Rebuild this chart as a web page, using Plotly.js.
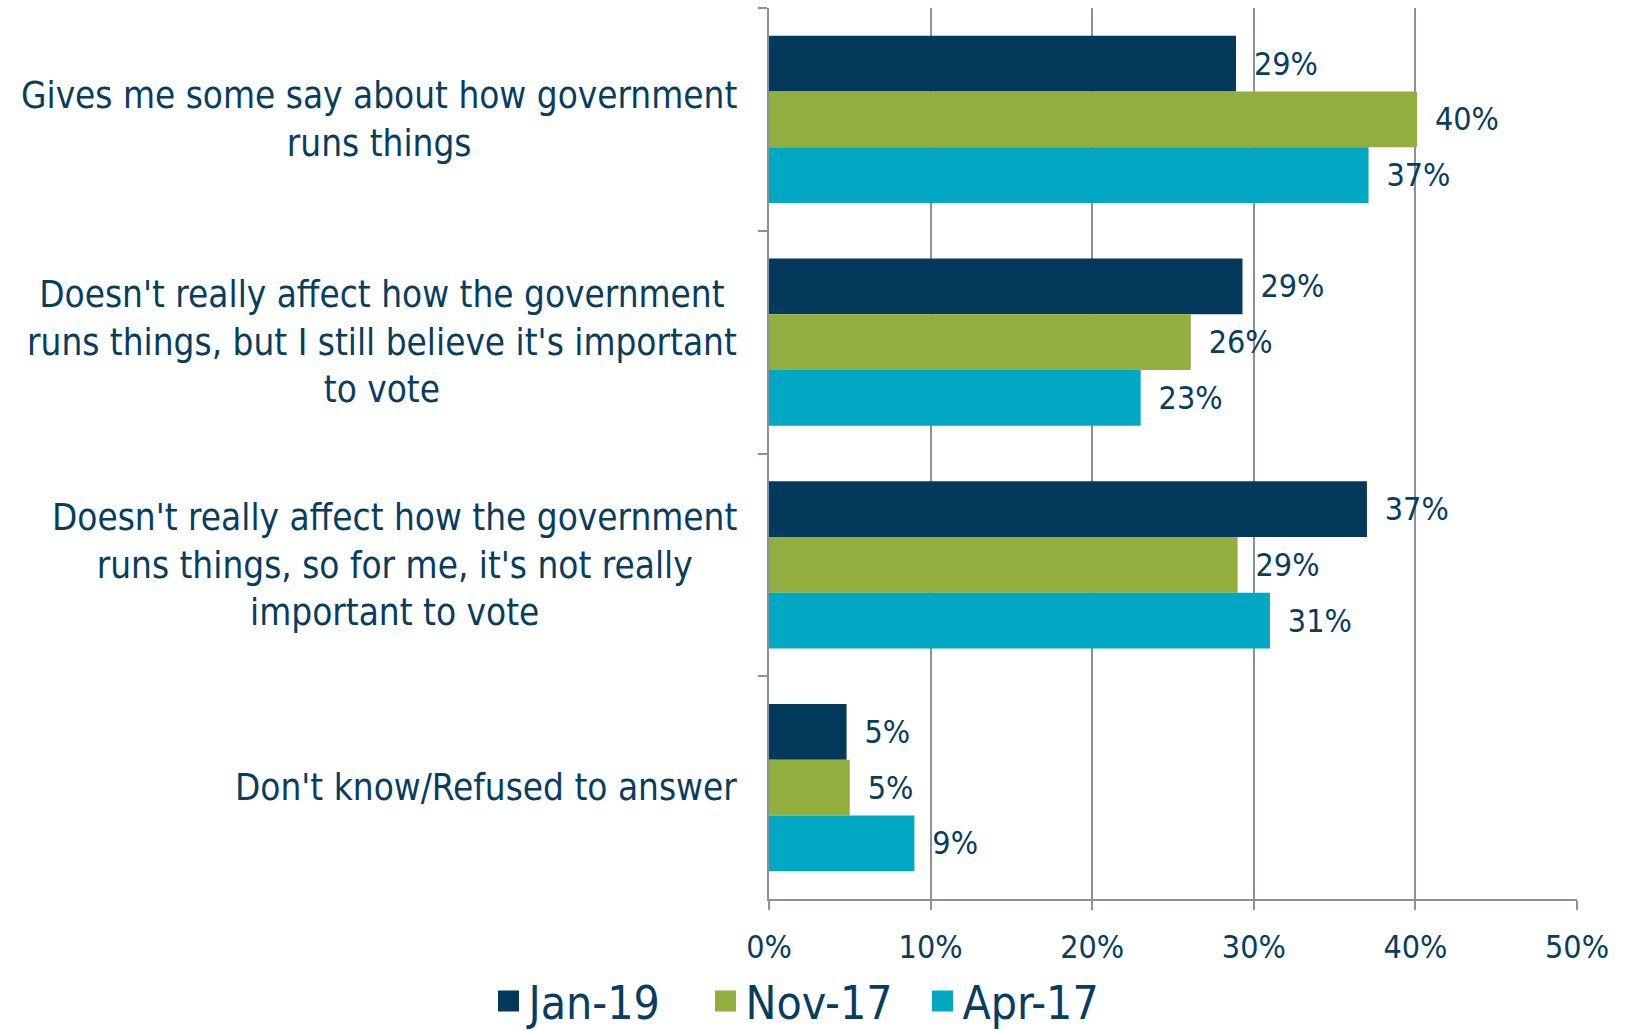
<!DOCTYPE html>
<html>
<head>
<meta charset="utf-8">
<script src="https://cdn.plot.ly/plotly-3.0.1.min.js"></script>
<style>html,body{margin:0;padding:0;background:#fff;}#chart{width:1628px;height:1030px;}</style>
</head>
<body>
<div id="chart"></div>
<script>
const categories = [
  "Gives me some say about how government<br>runs things",
  "Doesn't really affect how the government<br>runs things, but I still believe it's important<br>to vote",
  "Doesn't really affect how the government<br>runs things, so for me, it's not really<br>important to vote",
  "Don't know/Refused to answer"
];
const seriesNames = ["Jan-19", "Nov-17", "Apr-17"];
const jan19 = [28.9, 29.3, 37.0, 4.8];
const nov17 = [40.1, 26.1, 29.0, 5.0];
const apr17 = [37.1, 23.0, 31.0, 9.0];
const xTicks = [0, 10, 20, 30, 40, 50];
const xTickLabels = ["0%", "10%", "20%", "30%", "40%", "50%"];

const colors = ["#033a5b", "#92ae3f", "#00a8c3"];
const textColor = "#083d5f";
const gridColor = "#8a919b";
const FONT = "'DejaVu Sans Condensed', 'Liberation Sans Narrow', 'DejaVu Sans', sans-serif";

const allValues = [jan19, nov17, apr17];
const barTraces = allValues.map((vals, i) => ({
  type: "bar",
  orientation: "h",
  name: seriesNames[i],
  showlegend: false,
  x: vals,
  y: categories,
  marker: { color: colors[i], line: { width: 0 } },
  text: vals.map(v => "\u00A0\u2009" + Math.round(v) + "%"),
  texttemplate: "%{text}",
  textposition: "outside",
  constraintext: "none",
  cliponaxis: false,
  textfont: { family: FONT, size: 32, color: textColor },
  hoverinfo: "skip"
}));

// legend entries (larger square swatches)
const legendTraces = seriesNames.map((n, i) => ({
  type: "scatter",
  mode: "markers",
  name: n,
  x: [null],
  y: [null],
  showlegend: true,
  marker: { symbol: "square", size: 16, color: colors[i], line: { color: colors[i], width: 5 } },
  hoverinfo: "skip"
}));

const annotations = categories.map(c => ({
  xref: "paper", yref: "y",
  x: 0, y: c,
  xanchor: "right", yanchor: "middle",
  xshift: -30,
  align: "center",
  text: c,
  showarrow: false,
  font: { family: FONT, size: 36.6, color: textColor }
}));

const layout = {
  width: 1628, height: 1030,
  margin: { l: 769, r: 51, t: 8, b: 131 },
  paper_bgcolor: "#ffffff",
  plot_bgcolor: "#ffffff",
  barmode: "group",
  bargap: 0.25,
  bargroupgap: 0,
  font: { family: FONT, color: textColor },
  xaxis: {
    range: [0, 50],
    tickvals: xTicks,
    ticktext: xTickLabels,
    showgrid: true, gridcolor: gridColor, gridwidth: 2,
    showline: true, linecolor: gridColor, linewidth: 2,
    ticks: "outside", ticklen: 9, tickcolor: gridColor, tickwidth: 2,
    ticklabelstandoff: 10,
    zeroline: false,
    tickfont: { family: FONT, size: 32, color: textColor },
    fixedrange: true
  },
  yaxis: {
    autorange: "reversed",
    showgrid: false,
    showline: true, linecolor: gridColor, linewidth: 2,
    ticks: "outside", tickson: "boundaries", ticklen: 9, tickcolor: gridColor, tickwidth: 2,
    showticklabels: false,
    zeroline: false,
    fixedrange: true
  },
  legend: {
    orientation: "h",
    xref: "container", yref: "container",
    x: 0.5, xanchor: "center",
    y: 0.028, yanchor: "middle",
    font: { family: FONT, size: 46, color: textColor },
    itemwidth: 30,
    entrywidth: 172,
    entrywidthmode: "pixels",
    traceorder: "normal"
  },
  annotations: annotations,
  showlegend: true
};

Plotly.newPlot("chart", barTraces.concat(legendTraces), layout, { displayModeBar: false, staticPlot: true });
</script>
</body>
</html>
